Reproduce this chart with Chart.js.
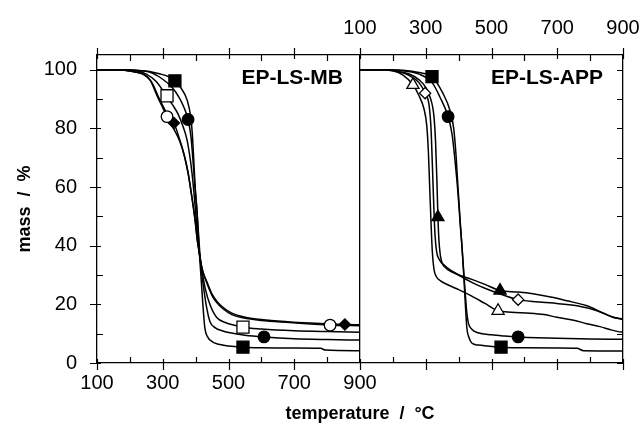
<!DOCTYPE html>
<html><head><meta charset="utf-8">
<script src="https://cdn.jsdelivr.net/npm/chart.js@4.4.1/dist/chart.umd.min.js"></script>
<style>html,body{margin:0;padding:0;background:#fff}canvas{display:block}</style>
</head><body>
<canvas id="c" width="640" height="433"></canvas>
<script>
// ---- tick labels / texts ----
const xTickLabels = [100, 300, 500, 700, 900];
const yTickLabels = [0, 20, 40, 60, 80, 100];
const panelLabels = ['EP-LS-MB', 'EP-LS-APP'];

// ---- EP-LS-MB (left panel): temperature (°C) / mass (%) ----
const mbFsT = [100,180,220,260,290,320,337,355,374,385,390,394,398,404,410,416,422,428,436,450,470,500,544,600,700,780,795,900];
const mbFsM = [100,100,99.8,99.4,98.6,97.5,96.2,93.8,89.7,84,78,70,61,52,40,30,20,12,9,7.3,6.4,5.8,5.4,5.2,5.1,5.0,4.4,4.2];
const mbFsMarkT = [337, 544];
const mbFsMarkM = [96.2, 5.4];

const mbOsT = [100,180,220,250,280,310,330,346,362,374,383,389,395,401,407,414,420,430,445,465,490,526,544,600,700,800,900];
const mbOsM = [100,100,99.6,98.5,96,91.3,88,85,80.5,76,70,64.7,58,50,42,35,31,25,19.5,15.4,13.8,12.7,12.2,11.6,11,10.7,10.5];
const mbOsMarkT = [313, 544];
const mbOsMarkM = [91.1, 12.2];

const mbFcT = [100,180,220,260,290,328,350,365,377,386,392,398,404,410,416,425,435,444,460,480,505,550,608,700,800,900];
const mbFcM = [100,100,99.7,99.2,97.5,94,90.5,87,83,77,69,60,52,42,33,25,18,14,12,11,10.3,9.5,8.9,8.3,8.0,7.8];
const mbFcMarkT = [377, 608];
const mbFcMarkM = [83, 8.9];

const mbOcT = [100,170,200,240,261,285,300,313,330,352,366,377,388,398,405,412,420,435,450,465,483,510,544,600,687,750,809,900];
const mbOcM = [100,100,99.5,98.5,96.5,90.5,87,84,80.5,75.5,70.5,64.7,57,49,42,37,32,27,23,20.5,18.5,16.5,15.4,14.5,13.8,13.3,12.9,12.7];
const mbOcMarkT = [313, 809];
const mbOcMarkM = [84, 12.9];

const mbFdT = [100,170,200,240,265,290,313,334,352,365,377,388,398,405,412,420,435,450,465,483,510,544,600,687,750,809,854,900];
const mbFdM = [100,100,99.5,98.5,96,90,85,81.8,76,71,65,57,49,42,37,32,27.5,23.5,21,19,17,15.8,14.8,14,13.6,13.3,13.1,13];
const mbFdMarkT = [334, 854];
const mbFdMarkM = [81.8, 13.1];

// ---- EP-LS-APP (right panel) ----
const appFsT = [100,180,230,280,319,352,374,385,392,398,405,410,415,420,425,432,440,460,489,529,600,700,760,780,900];
const appFsM = [100,100,99.8,99,97.6,92,86,80,71,60,48,40,31,21,12,8.5,6.8,6.1,5.8,5.4,5.2,5.1,5.0,4.2,4.1];
const appFsMarkT = [319, 529];
const appFsMarkM = [97.6, 5.4];

const appFcT = [100,180,230,280,320,343,368,380,389,398,405,410,415,420,425,430,440,459,500,540,581,640,700,800,900];
const appFcM = [100,100,99.6,98.5,95.5,90.7,84,78,69,58,47,40,32,24,17,13.5,11.5,10.3,9.6,9.2,8.9,8.6,8.4,8.2,8.1];
const appFcMarkT = [368, 581];
const appFcMarkM = [84, 8.9];

const appOtT = [100,160,200,230,261,280,295,303,308,312,316,320,325,332,345,370,400,440,480,520,560,617,660,699,750,790,830,860,885,900];
const appOtM = [100,100,99.6,98.2,94.8,91,86.5,81,72,60,48,38,32,29.5,28,26.5,25,22.8,20.3,17.8,17.3,17,16.5,15.6,14.6,13.4,12.4,11.4,10.7,10.5];
const appOtMarkT = [261, 520];
const appOtMarkM = [94.8, 17.8];

const appOdT = [100,170,210,250,280,298,310,316,320,324,328,333,340,360,400,440,480,520,581,678,760,821,870,900];
const appOdM = [100,100,99.5,98,95.5,92,88,80,68,55,44,38,35.5,33,30,27.5,25.5,23.8,21.6,20.5,19.5,17.8,15.6,15];
const appOdMarkT = [298, 581];
const appOdMarkM = [92, 21.6];

const appFtT = [100,170,210,250,280,300,315,325,330,334,337,340,344,350,360,380,400,440,480,526,580,626,680,730,790,839,870,900];
const appFtM = [100,100,99.5,98.5,96.5,94,90,84,75,62,50,42,37,34,32.5,31,30,28.5,26.8,24.7,24.2,23.6,22.5,21.2,19.5,17.1,15.6,14.8];
const appFtMarkT = [337, 526];
const appFtMarkM = [49.7, 24.7];

// ---- series table (panel 0 = left, 1 = right) ----
const series = [
  {panel:0, T:mbFsT, M:mbFsM, mT:mbFsMarkT, mM:mbFsMarkM, style:'rect', filled:true},
  {panel:0, T:mbOsT, M:mbOsM, mT:mbOsMarkT, mM:mbOsMarkM, style:'rect', filled:false},
  {panel:0, T:mbFcT, M:mbFcM, mT:mbFcMarkT, mM:mbFcMarkM, style:'circle', filled:true},
  {panel:0, T:mbOcT, M:mbOcM, mT:mbOcMarkT, mM:mbOcMarkM, style:'circle', filled:false},
  {panel:0, T:mbFdT, M:mbFdM, mT:mbFdMarkT, mM:mbFdMarkM, style:'rectRot', filled:true},
  {panel:1, T:appFsT, M:appFsM, mT:appFsMarkT, mM:appFsMarkM, style:'rect', filled:true},
  {panel:1, T:appFcT, M:appFcM, mT:appFcMarkT, mM:appFcMarkM, style:'circle', filled:true},
  {panel:1, T:appOtT, M:appOtM, mT:appOtMarkT, mM:appOtMarkM, style:'triangle', filled:false},
  {panel:1, T:appOdT, M:appOdM, mT:appOdMarkT, mM:appOdMarkM, style:'rectRot', filled:false},
  {panel:1, T:appFtT, M:appFtM, mT:appFtMarkT, mM:appFtMarkM, style:'triangle', filled:true}
];

const PANEL_SHIFT = 800; // right panel starts where the left one ends
const radius = {rect: 8.5, circle: 5.8, triangle: 7, rectRot: 5.6};

const datasets = [];
series.forEach(s => {
  const off = s.panel * PANEL_SHIFT;
  datasets.push({
    type: 'scatter',
    data: s.mT.map((t, i) => ({x: t + off, y: s.mM[i]})),
    showLine: false,
    pointStyle: s.style,
    pointRadius: radius[s.style],
    pointBackgroundColor: s.filled ? '#000' : '#fff',
    pointBorderColor: '#000',
    pointBorderWidth: 1.3,
    order: 0
  });
  datasets.push({
    type: 'line',
    data: s.T.map((t, i) => ({x: t + off, y: s.M[i]})),
    borderColor: '#000',
    borderWidth: 1.5,
    pointRadius: 0,
    fill: false,
    cubicInterpolationMode: 'monotone',
    order: 1
  });
});

const FONT = '"Liberation Sans", Arial, Helvetica, sans-serif';

const decor = {
  id: 'decor',
  afterDraw(chart) {
    const {ctx, chartArea: a, scales} = chart;
    ctx.save();
    ctx.strokeStyle = '#000';
    ctx.lineWidth = 1.2;
    ctx.beginPath();
    for (let v = 100; v <= 1700; v += 100) {
      const px = Math.round(scales.x.getPixelForValue(v)) + 0.5;
      const major = ((v - 100) / 100) % 2 === 0;
      if (major) {
        ctx.moveTo(px, a.bottom - 4); ctx.lineTo(px, a.bottom + 7);
        ctx.moveTo(px, a.top + 4); ctx.lineTo(px, a.top - 7);
      } else {
        ctx.moveTo(px, a.bottom); ctx.lineTo(px, a.bottom - 6);
        ctx.moveTo(px, a.top); ctx.lineTo(px, a.top + 6);
      }
    }
    for (let v = 0; v <= 100; v += 10) {
      const py = Math.round(scales.y.getPixelForValue(v)) + 0.5;
      const major = v % 20 === 0;
      if (major) { ctx.moveTo(a.left - 7, py); ctx.lineTo(a.left + 4, py); }
      else { ctx.moveTo(a.left, py); ctx.lineTo(a.left + 6, py); }
      ctx.moveTo(a.right, py); ctx.lineTo(a.right - 6, py);
    }
    ctx.stroke();
    ctx.fillStyle = '#000';
    ctx.font = 'bold 21px ' + FONT;
    ctx.textAlign = 'right';
    ctx.textBaseline = 'middle';
    ctx.fillText(panelLabels[0], scales.x.getPixelForValue(848), scales.y.getPixelForValue(97));
    ctx.fillText(panelLabels[1], scales.x.getPixelForValue(1639), scales.y.getPixelForValue(97));
    ctx.restore();
  }
};

const xTicksAll = [];
for (let v = 100; v <= 1700; v += 100) xTicksAll.push(v);
const yTicksAll = [];
for (let v = 0; v <= 100; v += 10) yTicksAll.push(v);

function noHPad(s) { s.paddingLeft = 0; s.paddingRight = 0; }
function noVPad(s) { s.paddingTop = 0; s.paddingBottom = 0; }

new Chart(document.getElementById('c'), {
  data: {datasets},
  options: {
    responsive: false,
    animation: false,
    devicePixelRatio: 1,
    layout: {padding: 0},
    plugins: {legend: {display: false}, tooltip: {enabled: false}},
    scales: {
      x: {
        type: 'linear', position: 'bottom', min: 100, max: 1700,
        afterBuildTicks: s => { s.ticks = xTicksAll.map(v => ({value: v})); },
        afterFit: s => { s.height = 70; noHPad(s); },
        ticks: {
          autoSkip: false, maxRotation: 0, padding: 8, color: '#000',
          font: {family: FONT, size: 20},
          callback: v => (v <= 900 && xTickLabels.includes(v)) ? String(v) : ''
        },
        grid: {
          drawTicks: false, drawOnChartArea: true, lineWidth: 1.3,
          color: c => (c.tick && c.tick.value === 900) ? '#000' : 'rgba(0,0,0,0)'
        },
        border: {display: true, color: '#000', width: 1.3},
        title: {display: true, text: 'temperature  /  °C', color: '#000',
                font: {family: FONT, size: 18, weight: 'bold'}, padding: {bottom: 8}}
      },
      x2: {
        type: 'linear', position: 'top', min: 100, max: 1700,
        afterBuildTicks: s => { s.ticks = xTicksAll.map(v => ({value: v})); },
        afterFit: s => { s.height = 55; noHPad(s); },
        ticks: {
          autoSkip: false, maxRotation: 0, padding: 15, color: '#000',
          font: {family: FONT, size: 20},
          callback: v => (v >= 900 && xTickLabels.includes(v - PANEL_SHIFT)) ? String(v - PANEL_SHIFT) : ''
        },
        grid: {drawTicks: false, drawOnChartArea: false},
        border: {display: true, color: '#000', width: 1.3}
      },
      y: {
        type: 'linear', position: 'left', min: 0, max: 105,
        afterBuildTicks: s => { s.ticks = yTicksAll.map(v => ({value: v})); },
        afterFit: s => { s.width = 97; noVPad(s); },
        ticks: {
          padding: 20, color: '#000', font: {family: FONT, size: 20},
          callback: v => yTickLabels.includes(v) ? String(v) : ''
        },
        grid: {drawTicks: false, drawOnChartArea: false},
        border: {display: true, color: '#000', width: 1.3},
        title: {display: true, text: 'mass  /  %', color: '#000',
                font: {family: FONT, size: 18, weight: 'bold'}, padding: {top: 14}}
      },
      y2: {
        type: 'linear', position: 'right', min: 0, max: 105,
        afterFit: s => { s.width = 17; noVPad(s); },
        ticks: {display: false},
        grid: {drawTicks: false, drawOnChartArea: false},
        border: {display: true, color: '#000', width: 1.3}
      }
    }
  },
  plugins: [decor]
});
</script>
</body></html>
